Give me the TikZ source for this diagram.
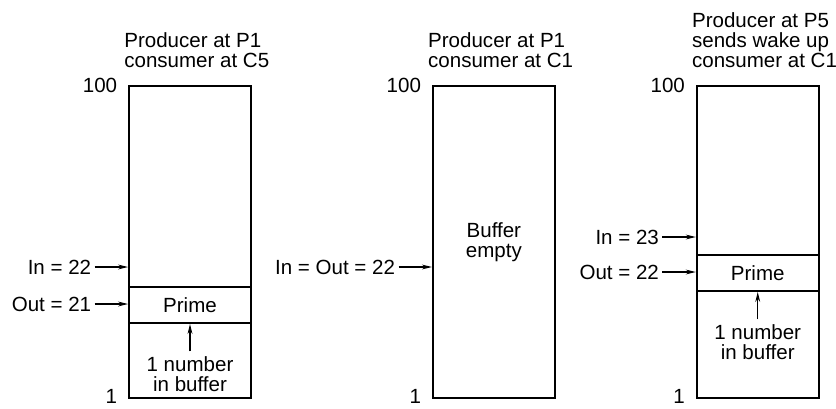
\documentclass[tikz,border=0pt]{standalone}
\usepackage{fontspec}
\setmainfont{Liberation Sans}
\usetikzlibrary{arrows.meta,positioning}

\begin{document}
\begin{tikzpicture}[
    x=0.75pt, y=-0.75pt,
    font=\fontsize{15.4pt}{15pt}\selectfont,
    buffer/.style={rectangle, draw, line width=1.4pt,
        minimum width=91.5pt, minimum height=233.6pt, inner sep=0pt},
    slot/.style={rectangle, draw, line width=1.4pt,
        minimum width=91.5pt, minimum height=27pt, inner sep=0pt},
    caption/.style={align=left, inner sep=0pt},
    note/.style={align=center, inner sep=3.5pt},
    idx/.style={inner sep=0pt},
    ptr/.style={inner sep=2.5pt},
    >={Stealth[length=7.5pt,width=3.6pt]}
]
\useasboundingbox (0,0) rectangle (836,408);

\node[buffer] (buf1) at (190,242) {};
\node[buffer, right=135pt of buf1] (buf2) {};
\node[buffer, right=105pt of buf2] (buf3) {};

\node[slot] (prime1) at (buf1 |- 0,305) {Prime};
\node[slot] (prime3) at (buf3 |- 0,273) {Prime};
\node[note] (empty2) at (buf2) {Buffer\\empty};

\node[caption, above right=13pt and -3pt of buf1.north west] (ttl1) {Producer at P1\\consumer at C5};
\node[caption, above right=13pt and -3pt of buf2.north west] (ttl2) {Producer at P1\\consumer at C1};
\node[caption, above right=13pt and -3pt of buf3.north west] (ttl3) {Producer at P5\\sends wake up\\consumer at C1};

\node[idx, left=8pt of buf1.north west] (top1) {100};
\node[idx, above left=1.5pt and 8pt of buf1.south west, anchor=east] (bot1) {1};
\node[idx, left=8pt of buf2.north west] (top2) {100};
\node[idx, above left=1.5pt and 8pt of buf2.south west, anchor=east] (bot2) {1};
\node[idx, left=8pt of buf3.north west] (top3) {100};
\node[idx, above left=1.5pt and 8pt of buf3.south west, anchor=east] (bot3) {1};

\coordinate (in1) at (buf1.west |- 0,267);
\coordinate (out1) at (buf1.west |- 0,304);
\coordinate (inout2) at (buf2.west |- 0,267);
\coordinate (in3) at (buf3.west |- 0,237);
\coordinate (out3) at (buf3.west |- 0,272);

\node[ptr, left=25pt of in1] (inlab1) {In = 22};
\node[ptr, left=25pt of out1] (outlab1) {Out = 21};
\node[ptr, left=25pt of inout2] (inoutlab2) {In = Out = 22};
\node[ptr, left=25pt of in3] (inlab3) {In = 23};
\node[ptr, left=25pt of out3] (outlab3) {Out = 22};

\draw[->, line width=0.8pt] (inlab1) -- (in1);
\draw[->, line width=0.8pt] (outlab1) -- (out1);
\draw[->, line width=0.8pt] (inoutlab2) -- (inout2);
\draw[->, line width=0.8pt] (inlab3) -- (in3);
\draw[->, line width=0.8pt] (outlab3) -- (out3);

\node[note, below=20.5pt of prime1] (cnt1) {1 number\\in buffer};
\node[note, below=20.5pt of prime3] (cnt3) {1 number\\in buffer};
\draw[->, line width=0.8pt] (cnt1) -- (prime1);
\draw[->, line width=0.8pt] (cnt3) -- (prime3);
\end{tikzpicture}
\end{document}
